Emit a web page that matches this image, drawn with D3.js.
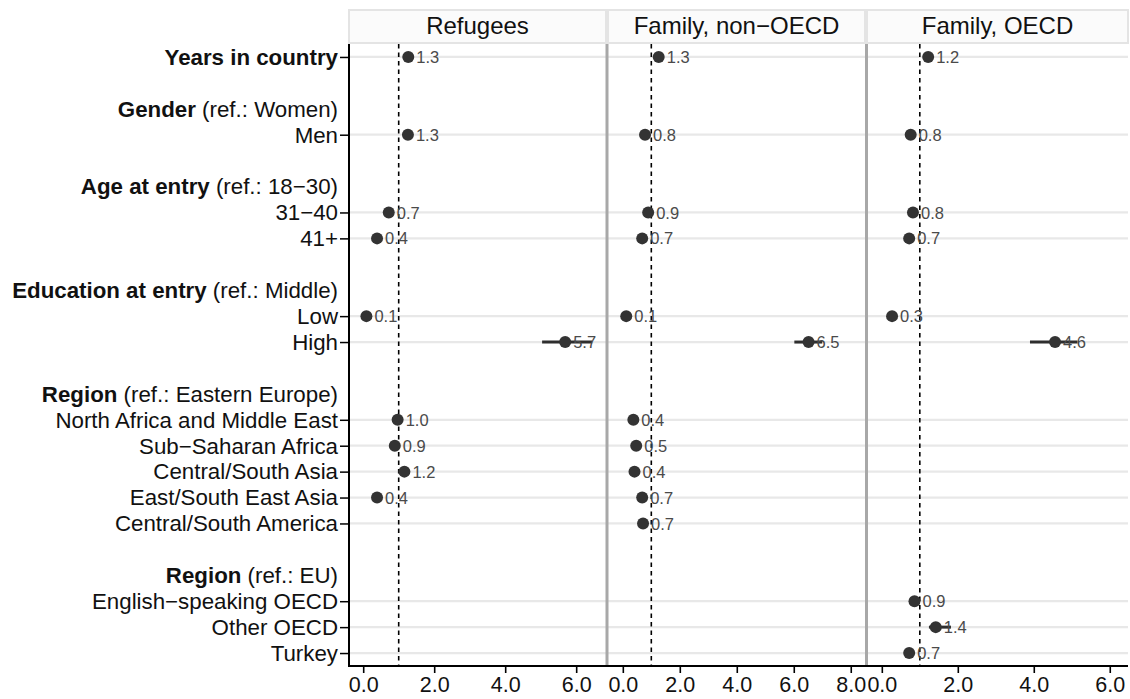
<!DOCTYPE html>
<html><head><meta charset="utf-8">
<script src="https://cdn.jsdelivr.net/npm/d3@7"></script>
<style>
body{margin:0;background:#fff}
svg{display:block}
text{font-family:"Liberation Sans",Arial,Helvetica,sans-serif}
</style>
</head><body>
<svg id="c" width="1130" height="699"></svg>
<script>
// ---- data ----
const rowBold = ["Years in country","","Gender","","","Age at entry","","","","Education at entry","","","","Region","","","","","","","Region","","",""];
const rowPlain = [""," "," (ref.: Women)","Men",""," (ref.: 18\u221230)","31\u221240","41+",""," (ref.: Middle)","Low","High",""," (ref.: Eastern Europe)","North Africa and Middle East","Sub\u2212Saharan Africa","Central/South Asia","East/South East Asia","Central/South America",""," (ref.: EU)","English\u2212speaking OECD","Other OECD","Turkey"];
const rowTick = [1,0,0,1,0,0,1,1,0,0,1,1,0,0,1,1,1,1,1,0,0,1,1,1];

const panelNames = ["Refugees","Family, non\u2212OECD","Family, OECD"];

const refugeesOR = [1.27,null,null,1.26,null,null,0.72,0.39,null,null,0.09,5.69,null,null,0.97,0.89,1.16,0.39,null,null,null,null,null,null];
const refugeesLo = [1.22,null,null,1.15,null,null,0.62,0.32,null,null,0.06,5.04,null,null,0.86,0.78,1.02,0.31,null,null,null,null,null,null];
const refugeesHi = [1.32,null,null,1.38,null,null,0.84,0.48,null,null,0.14,6.45,null,null,1.09,1.01,1.30,0.48,null,null,null,null,null,null];

const famNonOR = [1.26,null,null,0.78,null,null,0.89,0.68,null,null,0.12,6.52,null,null,0.37,0.47,0.41,0.68,0.71,null,null,null,null,null];
const famNonLo = [1.20,null,null,0.70,null,null,0.80,0.60,null,null,0.08,6.02,null,null,0.30,0.38,0.33,0.58,0.60,null,null,null,null,null];
const famNonHi = [1.32,null,null,0.87,null,null,0.99,0.77,null,null,0.17,7.00,null,null,0.45,0.57,0.50,0.80,0.84,null,null,null,null,null];

const famOecdOR = [1.22,null,null,0.76,null,null,0.82,0.72,null,null,0.27,4.56,null,null,null,null,null,null,null,null,null,0.86,1.42,0.72];
const famOecdLo = [1.17,null,null,0.66,null,null,0.70,0.60,null,null,0.18,3.90,null,null,null,null,null,null,null,null,null,0.75,1.24,0.60];
const famOecdHi = [1.27,null,null,0.86,null,null,0.95,0.85,null,null,0.38,5.15,null,null,null,null,null,null,null,null,null,0.98,1.82,0.85];

const panelTicks = [[0,2,4,6],[0,2,4,6,8],[0,2,4,6]];
const panelDomains = [[-0.40,6.84],[-0.52,8.50],[-0.39,6.48]];
const refValue = 1;

// ---- layout ----
const svg = d3.select("#c");
const plotTop = 44, plotBottom = 666, stripTop = 10;
const extents = [[349,606],[608,865],[867,1128]];
const series = [
  {or:refugeesOR, lo:refugeesLo, hi:refugeesHi},
  {or:famNonOR, lo:famNonLo, hi:famNonHi},
  {or:famOecdOR, lo:famOecdLo, hi:famOecdHi}
];

const y = d3.scalePoint().domain(d3.range(rowBold.length)).range([plotTop,plotBottom]).padding(0.5);
const dataRows = d3.range(rowBold.length).filter(i=>rowTick[i]);

panelNames.forEach((name,p)=>{
  const x = d3.scaleLinear().domain(panelDomains[p]).range(extents[p]);
  const g = svg.append("g");
  const [x0,x1] = extents[p];
  // strip
  g.append("rect").attr("x",x0).attr("y",stripTop).attr("width",x1-x0).attr("height",plotTop-stripTop-1)
    .attr("fill","#fbfbfb").attr("stroke","#e4e4e4").attr("stroke-width",2);
  g.append("text").attr("x",(x0+x1)/2).attr("y",34)
    .attr("text-anchor","middle").attr("font-size",24).attr("fill","#111").text(name);
  // gridlines
  g.selectAll("line.grid").data(dataRows).join("line").attr("class","grid")
    .attr("x1",x0).attr("x2",x1).attr("y1",d=>y(d)).attr("y2",d=>y(d))
    .attr("stroke","#e8e8e8").attr("stroke-width",2.2);
  // reference line
  g.append("line").attr("x1",x(refValue)).attr("x2",x(refValue)).attr("y1",plotTop).attr("y2",plotBottom)
    .attr("stroke","#000").attr("stroke-width",1.6).attr("stroke-dasharray","4.5,4");
  const s = series[p];
  const idx = d3.range(s.or.length).filter(i=>s.or[i]!=null);
  g.selectAll("line.ci").data(idx).join("line").attr("class","ci")
    .attr("x1",i=>x(s.lo[i])).attr("x2",i=>x(s.hi[i])).attr("y1",i=>y(i)).attr("y2",i=>y(i))
    .attr("stroke","#2e2e2e").attr("stroke-width",3);
  g.selectAll("circle").data(idx).join("circle")
    .attr("cx",i=>x(s.or[i])).attr("cy",i=>y(i)).attr("r",6)
    .attr("fill","#333");
  g.selectAll("text.val").data(idx).join("text").attr("class","val")
    .attr("x",i=>x(s.or[i])+8).attr("y",i=>y(i)).attr("dy","0.37em")
    .attr("font-size",16.5).attr("fill","#4a4a4a").text(i=>d3.format(".1f")(s.or[i]));
  // bottom axis
  const ax = svg.append("g").attr("transform",`translate(0,${plotBottom})`)
    .call(d3.axisBottom(x).tickValues(panelTicks[p]).tickFormat(d3.format(".1f")).tickSize(7).tickPadding(4));
  ax.select(".domain").remove();
  ax.selectAll(".tick line").attr("stroke","#000").attr("stroke-width",1.6);
  ax.selectAll(".tick text").attr("font-size",21.5).attr("fill","#111").attr("font-family","'Liberation Sans',Arial,sans-serif");
});

// separators
[606.5, 866].forEach(sx=>{
  svg.append("line").attr("x1",sx+0.5).attr("x2",sx+0.5).attr("y1",plotTop).attr("y2",plotBottom)
    .attr("stroke","#a8a8a8").attr("stroke-width",3);
});

// bottom axis line
svg.append("line").attr("x1",extents[0][0]).attr("x2",extents[2][1]).attr("y1",plotBottom).attr("y2",plotBottom)
  .attr("stroke","#000").attr("stroke-width",2);

// left axis
const ay = svg.append("g").attr("transform",`translate(${extents[0][0]},0)`)
  .call(d3.axisLeft(y).tickValues(dataRows).tickSize(9).tickFormat(()=>""));
ay.select(".domain").remove();
ay.selectAll(".tick line").attr("stroke","#000").attr("stroke-width",1.5);
svg.append("line").attr("x1",extents[0][0]).attr("x2",extents[0][0]).attr("y1",plotTop).attr("y2",plotBottom+1)
  .attr("stroke","#000").attr("stroke-width",2);

const lab = svg.append("g");
d3.range(rowBold.length).forEach(i=>{
  if(!rowBold[i] && !rowPlain[i].trim()) return;
  const t = lab.append("text").attr("x",338).attr("y",y(i)).attr("dy","0.35em")
    .attr("text-anchor","end").attr("font-size",22.3).attr("fill","#111")
    .style("white-space","pre");
  if(rowBold[i]) t.append("tspan").attr("font-weight","bold").text(rowBold[i]);
  if(rowPlain[i]) t.append("tspan").text(rowPlain[i]);
});
</script>
</body></html>
